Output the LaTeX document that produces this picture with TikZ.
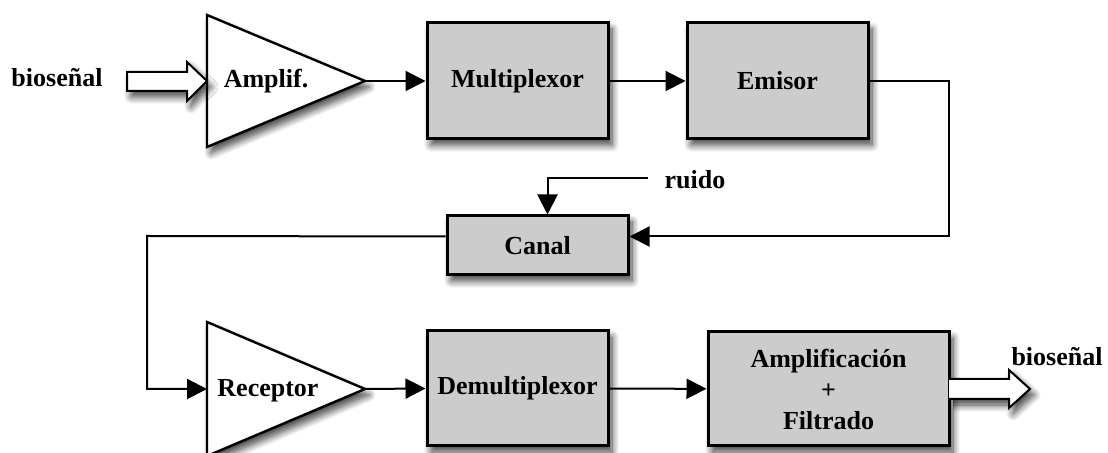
\documentclass[tikz,border=0pt]{standalone}
\usepackage{fontspec}
\setmainfont{Liberation Serif}
\usetikzlibrary{arrows.meta,shadows.blur}

\begin{document}
\begin{tikzpicture}[x=0.5pt,y=0.5pt]
			\tikzstyle{every node}+=[inner sep=0pt, font=\fontsize{13}{15.5}\selectfont\bfseries]
			\tikzstyle{softshadow}=[blur shadow={shadow xshift=2pt, shadow yshift=-3pt, shadow blur radius=3.5pt, shadow blur steps=10, shadow opacity=75}]
			\tikzstyle{block}=[draw=black, line width=1.5pt, fill=black!20, minimum width=90.5pt, softshadow]
			\tikzstyle{amp}=[draw=black, line width=1.2pt, fill=white, softshadow]
			\tikzstyle{fat}=[draw=black, line width=1pt, fill=white, softshadow]
			\tikzstyle{wire}=[black, line width=1pt, -{Triangle[length=10pt,width=10pt]}]
			\useasboundingbox (0,0) rectangle (1108,-453);
			% amplifier and receiver
			\coordinate (ampin) at (207,-81);
			\coordinate (ampout) at (365,-81);
			\draw [amp] (207,-15) -- (ampout) -- (207,-147) -- cycle;
			\coordinate (rxin) at (207,-389);
			\coordinate (rxout) at (365,-389);
			\draw [amp] (207,-322) -- (rxout) -- (207,-456) -- cycle;
			\node (amptxt) at (266,-81) {Amplif.};
			\node (rxtxt) at (268,-391) {Receptor};
			% blocks
			\node [block, minimum height=58pt] (mux) at (517.5,-81) {Multiplexor};
			\node [block, minimum height=58pt] (emi) at (777.5,-81) {Emisor};
			\node [block, minimum height=29.5pt] (canal) at (537.5,-245.5) {Canal};
			\node [block, minimum height=57.5pt] (demux) at (517.5,-388.5) {Demultiplexor};
			\node [block, minimum width=120.5pt, minimum height=57pt, align=center] (filt) at (828.5,-389) {Amplificación\\+\\Filtrado};
			% labels
			\node (sigin) at (57,-78) {bioseñal};
			\node (sigout) at (1057,-357) {bioseñal};
			\node (noise) at (695,-180) {ruido};
			% hollow arrows
			\draw [fat] (127,-72) -- (187,-72) -- (187,-62) -- (ampin) -- (187,-101) -- (187,-91) -- (127,-91) -- cycle;
			\draw [fat] (949,-379) -- (1009,-379) -- (1009,-370) -- (1030,-389) -- (1009,-408) -- (1009,-399) -- (949,-399);
			% connections
			\coordinate (bendA) at (949,-81);
			\coordinate (noisein) at (648,-178);
			\coordinate (bendB) at (147,-236);
			\draw [wire] (ampout) -- (mux.west);
			\draw [wire] (mux) -- (emi);
			\draw [wire] (emi.east) -- (bendA) |- ([yshift=4.5pt]canal.east);
			\draw [wire] (noisein) -| ([xshift=5pt]canal.north);
			\draw [wire] ([yshift=4.5pt]canal.west) -- (bendB) |- (rxin);
			\draw [wire] (rxout) -- (demux.west);
			\draw [wire] (demux) -- (filt);
		\end{tikzpicture}
\end{document}
